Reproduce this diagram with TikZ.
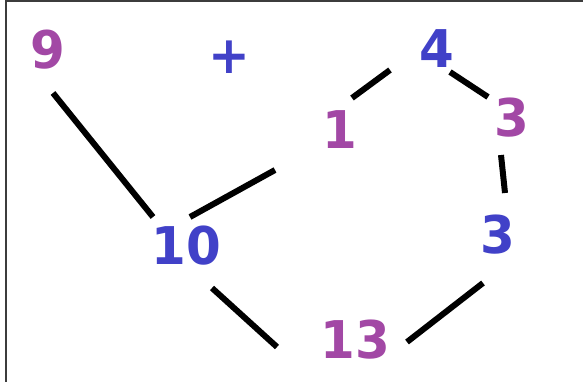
\documentclass[tikz,border=0pt]{standalone}
\usepackage{fontspec}
\newfontfamily\digitfont{DejaVu Sans}[FakeStretch=0.96]
\definecolor{magd}{RGB}{162,72,165}
\definecolor{blud}{RGB}{65,65,200}
\definecolor{frame}{RGB}{60,60,60}
\tikzset{
  num/.style={inner sep=0pt, anchor=center, font=\digitfont\bfseries\fontsize{52}{52}\selectfont},
  magnum/.style={num, text=magd},
  blunum/.style={num, text=blud},
  bond/.style={line width=6pt, black}
}
\begin{document}
\begin{tikzpicture}[x=1pt,y=-1pt]
\useasboundingbox (0,0) rectangle (583,382);
\fill[white] (0,0) rectangle (583,382);
\draw[frame, line width=2pt] (6,382) -- (6,1.5) -- (583,1.5);
% labels
\node[magnum] (n9) at (48,50) {9};
\node[blunum] (plus) at (229,57) {+};
\node[blunum] (n4) at (437,49) {4};
\node[magnum] (n1) at (340,130) {1};
\node[magnum] (n3a) at (512,118) {3};
\node[blunum] (n3b) at (498,235) {3};
\node[blunum] (n10) at (186,246) {10};
\node[magnum] (n13) at (355,340) {13};
% bond end points
\coordinate (a1) at (53,93);   \coordinate (a2) at (153,217);
\coordinate (b1) at (190,217); \coordinate (b2) at (275,170);
\coordinate (c1) at (352,98);  \coordinate (c2) at (390,70);
\coordinate (d1) at (450,72);  \coordinate (d2) at (488,97);
\coordinate (e1) at (501,155); \coordinate (e2) at (505,193);
\coordinate (f1) at (483,283); \coordinate (f2) at (407,342);
\coordinate (g1) at (212,288); \coordinate (g2) at (277,347);
\draw[bond] (a1) -- (a2);
\draw[bond] (b1) -- (b2);
\draw[bond] (c1) -- (c2);
\draw[bond] (d1) -- (d2);
\draw[bond] (e1) -- (e2);
\draw[bond] (f1) -- (f2);
\draw[bond] (g1) -- (g2);
\end{tikzpicture}
\end{document}
